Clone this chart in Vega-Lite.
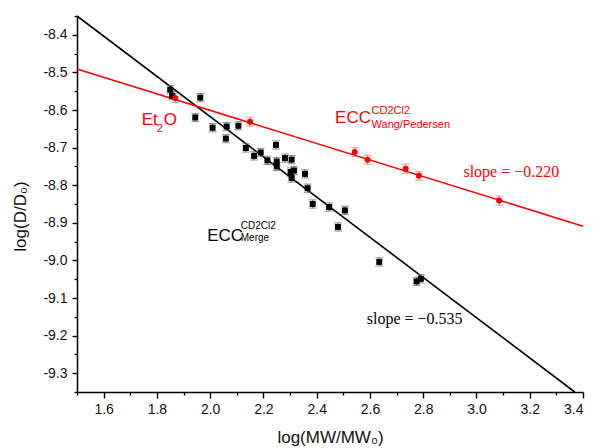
{
  "$schema": "https://vega.github.io/schema/vega-lite/v6.json",
  "autosize": {"type": "none"},
  "padding": {"left": 77, "top": 16, "right": 10, "bottom": 56},
  "width": 506,
  "height": 376,
  "background": "white",
  "config": {"view": {"stroke": null}, "font": "Liberation Sans"},
  "datasets": {
    "merge": [
      {"x": 1.850, "y": -8.546, "err": 0.011, "group": "Merge"},
      {"x": 1.857, "y": -8.562, "err": 0.011, "group": "Merge"},
      {"x": 1.944, "y": -8.620, "err": 0.011, "group": "Merge"},
      {"x": 1.963, "y": -8.567, "err": 0.011, "group": "Merge"},
      {"x": 2.009, "y": -8.647, "err": 0.011, "group": "Merge"},
      {"x": 2.059, "y": -8.676, "err": 0.011, "group": "Merge"},
      {"x": 2.062, "y": -8.644, "err": 0.011, "group": "Merge"},
      {"x": 2.106, "y": -8.642, "err": 0.011, "group": "Merge"},
      {"x": 2.134, "y": -8.701, "err": 0.011, "group": "Merge"},
      {"x": 2.165, "y": -8.722, "err": 0.011, "group": "Merge"},
      {"x": 2.190, "y": -8.713, "err": 0.011, "group": "Merge"},
      {"x": 2.215, "y": -8.734, "err": 0.011, "group": "Merge"},
      {"x": 2.247, "y": -8.693, "err": 0.011, "group": "Merge"},
      {"x": 2.250, "y": -8.737, "err": 0.011, "group": "Merge"},
      {"x": 2.250, "y": -8.750, "err": 0.011, "group": "Merge"},
      {"x": 2.281, "y": -8.728, "err": 0.011, "group": "Merge"},
      {"x": 2.306, "y": -8.732, "err": 0.011, "group": "Merge"},
      {"x": 2.302, "y": -8.765, "err": 0.011, "group": "Merge"},
      {"x": 2.315, "y": -8.761, "err": 0.011, "group": "Merge"},
      {"x": 2.306, "y": -8.781, "err": 0.011, "group": "Merge"},
      {"x": 2.356, "y": -8.770, "err": 0.011, "group": "Merge"},
      {"x": 2.366, "y": -8.808, "err": 0.011, "group": "Merge"},
      {"x": 2.385, "y": -8.850, "err": 0.011, "group": "Merge"},
      {"x": 2.447, "y": -8.858, "err": 0.011, "group": "Merge"},
      {"x": 2.480, "y": -8.911, "err": 0.011, "group": "Merge"},
      {"x": 2.506, "y": -8.867, "err": 0.011, "group": "Merge"},
      {"x": 2.635, "y": -9.004, "err": 0.011, "group": "Merge"},
      {"x": 2.775, "y": -9.056, "err": 0.011, "group": "Merge"},
      {"x": 2.791, "y": -9.049, "err": 0.011, "group": "Merge"}
    ],
    "wang": [
      {"x": 1.869, "y": -8.568, "err": 0.012, "group": "Wang/Pedersen"},
      {"x": 2.150, "y": -8.631, "err": 0.012, "group": "Wang/Pedersen"},
      {"x": 2.543, "y": -8.712, "err": 0.012, "group": "Wang/Pedersen"},
      {"x": 2.591, "y": -8.732, "err": 0.012, "group": "Wang/Pedersen"},
      {"x": 2.734, "y": -8.756, "err": 0.012, "group": "Wang/Pedersen"},
      {"x": 2.784, "y": -8.775, "err": 0.012, "group": "Wang/Pedersen"},
      {"x": 3.085, "y": -8.841, "err": 0.012, "group": "Wang/Pedersen"}
    ],
    "fits": [
      {"x": 1.5, "y": -8.350, "group": "Merge"},
      {"x": 3.369, "y": -9.350, "group": "Merge"},
      {"x": 1.5, "y": -8.491, "group": "Wang/Pedersen"},
      {"x": 3.4, "y": -8.909, "group": "Wang/Pedersen"}
    ],
    "labels": [
      {"x": 1.743, "y": -8.640, "text": "Et", "role": "main", "group": "Wang/Pedersen"},
      {"x": 1.799, "y": -8.658, "text": "2", "role": "script", "group": "Wang/Pedersen"},
      {"x": 1.826, "y": -8.640, "text": "O", "role": "main", "group": "Wang/Pedersen"},
      {"x": 2.469, "y": -8.635, "text": "ECC", "role": "main", "group": "Wang/Pedersen"},
      {"x": 2.606, "y": -8.611, "text": "CD2Cl2", "role": "script", "group": "Wang/Pedersen"},
      {"x": 2.606, "y": -8.648, "text": "Wang/Pedersen", "role": "script", "group": "Wang/Pedersen"},
      {"x": 1.989, "y": -8.948, "text": "ECC", "role": "main", "group": "Merge"},
      {"x": 2.115, "y": -8.917, "text": "CD2Cl2", "role": "small", "group": "Merge"},
      {"x": 2.115, "y": -8.948, "text": "Merge", "role": "small", "group": "Merge"},
      {"x": 2.951, "y": -8.779, "text": "slope = \u22120.220", "role": "slope", "group": "Wang/Pedersen"},
      {"x": 2.588, "y": -9.169, "text": "slope = \u22120.535", "role": "slope", "group": "Merge"}
    ]
  },
  "layer": [
    {
      "data": {"name": "fits"},
      "mark": {"type": "line", "strokeWidth": 1.6},
      "encoding": {
        "x": {"field": "x", "type": "quantitative", "scale": {"domain": [1.5, 3.4], "nice": false, "zero": false}, "axis": null},
        "y": {"field": "y", "type": "quantitative", "scale": {"domain": [-9.35, -8.35], "nice": false, "zero": false}, "axis": null},
        "color": {"field": "group", "type": "nominal", "scale": {"domain": ["Merge", "Wang/Pedersen"], "range": ["#000000", "#ff0000"]}, "legend": null},
        "detail": {"field": "group"}
      }
    },
    {
      "data": {"name": "merge"},
      "mark": {"type": "errorbar", "ticks": {"size": 8, "color": "#666666"}, "color": "#666666", "thickness": 1},
      "encoding": {
        "x": {"field": "x", "type": "quantitative", "axis": null},
        "y": {"field": "y", "type": "quantitative", "axis": null},
        "yError": {"field": "err"}
      }
    },
    {
      "data": {"name": "wang"},
      "mark": {"type": "errorbar", "ticks": {"size": 8, "color": "#ff6666"}, "color": "#ff6666", "thickness": 1},
      "encoding": {
        "x": {"field": "x", "type": "quantitative", "axis": null},
        "y": {"field": "y", "type": "quantitative", "axis": null},
        "yError": {"field": "err"}
      }
    },
    {
      "data": {"name": "merge"},
      "mark": {"type": "point", "shape": "square", "filled": true, "size": 36, "opacity": 1},
      "encoding": {
        "x": {"field": "x", "type": "quantitative",
          "axis": {"orient": "bottom", "values": [1.6, 1.8, 2.0, 2.2, 2.4, 2.6, 2.8, 3.0, 3.2, 3.4], "format": ".1f", "grid": false, "tickSize": 6, "tickWidth": 1.4, "tickColor": "black", "domainColor": "black", "domainWidth": 1.5, "labelFontSize": 14, "labelColor": "#111111", "labelPadding": 4, "labelFont": "Liberation Sans",
            "title": "log(MW/MW\u2080)", "titleFontSize": 17, "titleFontWeight": "normal", "titleColor": "#111111", "titleFont": "Liberation Sans", "titleY": 50, "titleBaseline": "alphabetic"}},
        "y": {"field": "y", "type": "quantitative",
          "axis": {"orient": "left", "values": [-9.3, -9.2, -9.1, -9.0, -8.9, -8.8, -8.7, -8.6, -8.5, -8.4], "format": ".1f", "labelExpr": "replace(datum.label, '\u2212', '-')", "grid": false, "tickSize": 5, "tickWidth": 1.4, "tickColor": "black", "domainColor": "black", "domainWidth": 1.5, "labelFontSize": 14, "labelColor": "#111111", "labelPadding": 5, "labelFont": "Liberation Sans",
            "title": "log(D/D\u2080)", "titleFontSize": 17, "titleFontWeight": "normal", "titleColor": "#111111", "titleFont": "Liberation Sans", "titleX": -52, "titleY": 200, "titleAngle": -90, "titleAlign": "center", "titleBaseline": "alphabetic"}},
        "color": {"field": "group", "type": "nominal", "legend": null}
      }
    },
    {
      "data": {"name": "wang"},
      "mark": {"type": "point", "shape": "circle", "filled": true, "size": 36, "opacity": 1},
      "encoding": {
        "x": {"field": "x", "type": "quantitative",
          "axis": {"orient": "bottom", "values": [1.5, 1.7, 1.9, 2.1, 2.3, 2.5, 2.7, 2.9, 3.1, 3.3], "labels": false, "domain": false, "grid": false, "tickSize": 3, "tickWidth": 1.3, "tickColor": "black", "title": null}},
        "y": {"field": "y", "type": "quantitative",
          "axis": {"orient": "left", "values": [-9.35, -9.25, -9.15, -9.05, -8.95, -8.85, -8.75, -8.65, -8.55, -8.45, -8.35], "labels": false, "domain": false, "grid": false, "tickSize": 3, "tickWidth": 1.3, "tickColor": "black", "title": null}},
        "color": {"field": "group", "type": "nominal", "legend": null}
      }
    },
    {
      "data": {"name": "labels"},
      "transform": [{"filter": "datum.role === 'main'"}],
      "mark": {"type": "text", "align": "left", "baseline": "alphabetic", "fontSize": 17, "font": "Liberation Sans"},
      "encoding": {
        "x": {"field": "x", "type": "quantitative", "axis": null},
        "y": {"field": "y", "type": "quantitative", "axis": null},
        "text": {"field": "text"},
        "color": {"field": "group", "type": "nominal", "legend": null}
      }
    },
    {
      "data": {"name": "labels"},
      "transform": [{"filter": "datum.role === 'script'"}],
      "mark": {"type": "text", "align": "left", "baseline": "alphabetic", "fontSize": 11, "font": "Liberation Sans"},
      "encoding": {
        "x": {"field": "x", "type": "quantitative", "axis": null},
        "y": {"field": "y", "type": "quantitative", "axis": null},
        "text": {"field": "text"},
        "color": {"field": "group", "type": "nominal", "legend": null}
      }
    },
    {
      "data": {"name": "labels"},
      "transform": [{"filter": "datum.role === 'small'"}],
      "mark": {"type": "text", "align": "left", "baseline": "alphabetic", "fontSize": 10, "font": "Liberation Sans"},
      "encoding": {
        "x": {"field": "x", "type": "quantitative", "axis": null},
        "y": {"field": "y", "type": "quantitative", "axis": null},
        "text": {"field": "text"},
        "color": {"field": "group", "type": "nominal", "legend": null}
      }
    },
    {
      "data": {"name": "labels"},
      "transform": [{"filter": "datum.role === 'slope'"}],
      "mark": {"type": "text", "align": "left", "baseline": "alphabetic", "fontSize": 16, "font": "Liberation Serif"},
      "encoding": {
        "x": {"field": "x", "type": "quantitative", "axis": null},
        "y": {"field": "y", "type": "quantitative", "axis": null},
        "text": {"field": "text"},
        "color": {"field": "group", "type": "nominal", "legend": null}
      }
    }
  ],
  "resolve": {"axis": {"x": "independent", "y": "independent"}}
}
